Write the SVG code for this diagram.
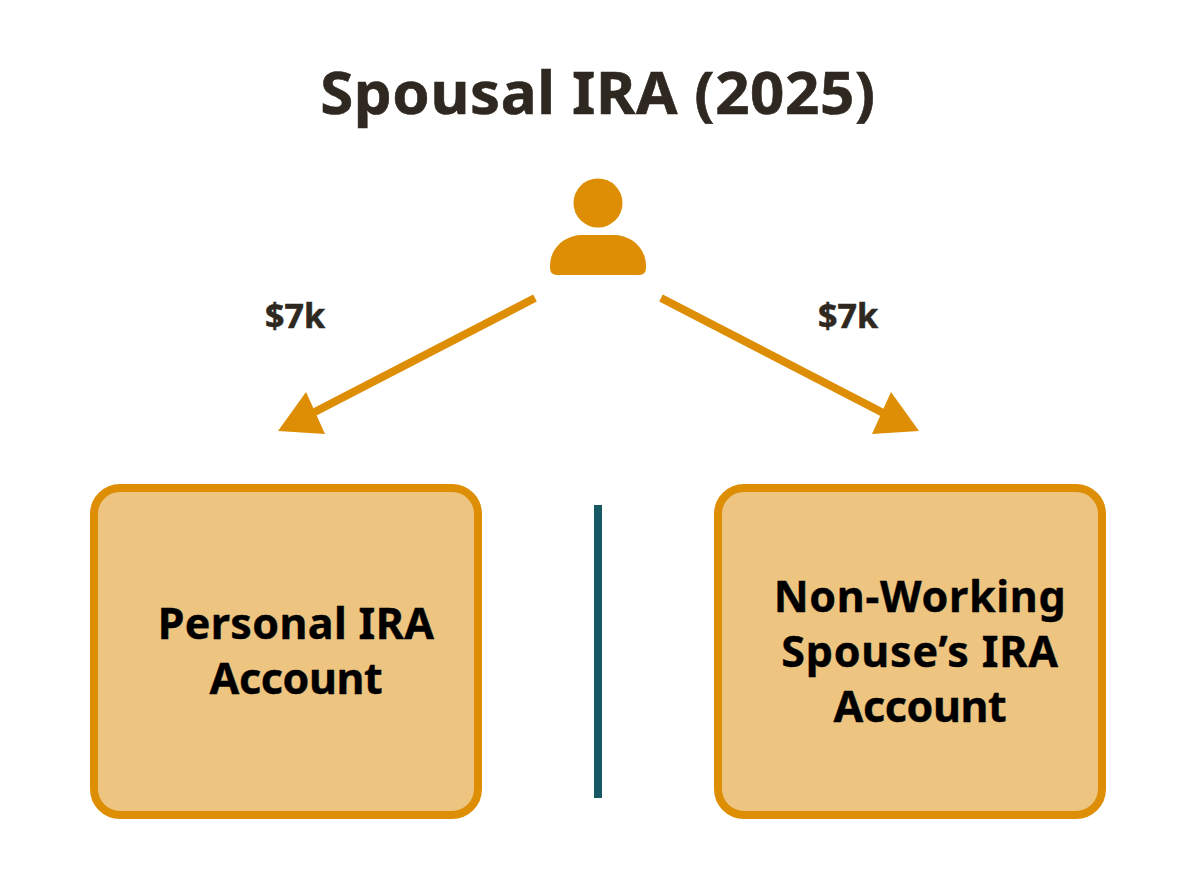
<svg xmlns="http://www.w3.org/2000/svg" width="1200" height="874" viewBox="0 0 1200 874">
<style>
text{font-family:"Noto Sans","Open Sans",sans-serif;text-anchor:middle;font-weight:700}
.title{font-size:60px;fill:#2e2820;stroke:#2e2820;stroke-width:.6px;letter-spacing:.6px}
.lab{font-size:34px;fill:#2e2820;stroke:#2e2820;stroke-width:.6px}
.box{font-size:43px;fill:#000;stroke:#000;stroke-width:.4px}
.acc{fill:#edc480;stroke:#dd8e04;stroke-width:8}
.conn{stroke:#dd8e04;stroke-width:8;fill:none}
.head{fill:#dd8e04}
</style>
<rect width="1200" height="874" fill="#fff"/>
<g id="title"><text class="title" x="598" y="114">Spousal IRA (2025)</text></g>
<g id="person"><circle cx="598" cy="203" r="24.500" fill="#dd8e04"/><path d="M550 266C550 247 566 235 582 235H614C630 235 646 247 646 266V268Q646 275 639 275H557Q550 275 550 268Z" fill="#dd8e04"/></g>
<g id="connectors">
<line class="conn" x1="535" y1="298" x2="305" y2="417"/><polygon class="head" points="278,431 306,392 325,434"/>
<line class="conn" x1="661" y1="298" x2="891" y2="417"/><polygon class="head" points="919,431 891,392 872,434"/>
<line x1="598" y1="505" x2="598" y2="798" stroke="#165864" stroke-width="8"/>
</g>
<g id="label-left"><text class="lab" x="295" y="328">$7k</text></g>
<g id="label-right"><text class="lab" x="848" y="328">$7k</text></g>
<g id="personal-ira"><rect class="acc" x="94" y="488" width="384" height="327" rx="26"/><text class="box" x="296" y="639" style="letter-spacing:.35px">Personal IRA</text><text class="box" x="296" y="694" style="letter-spacing:-.4px">Account</text></g>
<g id="spouse-ira"><rect class="acc" x="718" y="488" width="384" height="327" rx="26"/><text class="box" x="920" y="612" style="letter-spacing:.7px">Non-Working</text><text class="box" x="920" y="667" style="letter-spacing:.8px">Spouse’s IRA</text><text class="box" x="920" y="722" style="letter-spacing:-.4px">Account</text></g>
</svg>
